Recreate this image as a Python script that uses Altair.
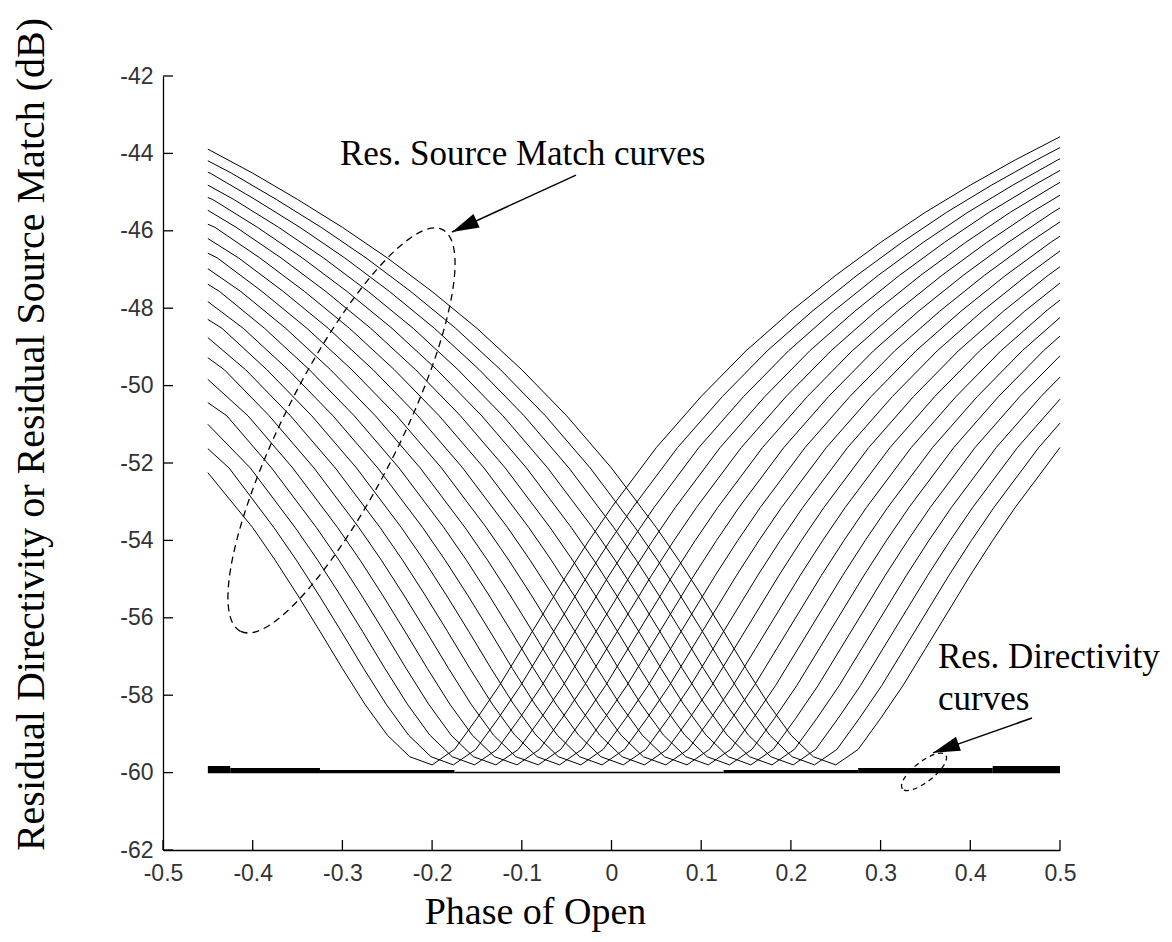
import altair as alt
import pandas as pd

# ---------------- data ----------------
# Residual source match curves: one V-shaped curve per valley position
valley_x = [-0.2, -0.1763, -0.1526, -0.1289, -0.1053, -0.0816, -0.0579, -0.0342, -0.0105, 0.0132,
            0.0368, 0.0605, 0.0842, 0.1079, 0.1316, 0.1553, 0.1789, 0.2026, 0.2263, 0.25]
# value of each curve at the left end (x = -0.45) and at the right end (x = 0.5)
left_end_y = [-52.25, -51.63, -51.0, -50.44, -49.84, -49.28, -48.76, -48.29, -47.83, -47.38,
              -46.98, -46.58, -46.20, -45.83, -45.47, -45.14, -44.82, -44.49, -44.19, -43.89]
right_end_y = [-43.57, -43.85, -44.14, -44.44, -44.75, -45.08, -45.41, -45.77, -46.14, -46.52,
               -46.93, -47.35, -47.79, -48.24, -48.72, -49.23, -49.78, -50.35, -50.97, -51.60]
# read shape of a branch: distance from the valley and level in dB
branch_offset = [0.7, 0.65, 0.6, 0.55, 0.5, 0.45, 0.4, 0.35, 0.3, 0.25, 0.2, 0.175, 0.15, 0.125,
                 0.1, 0.075, 0.05, 0.025]
left_branch_db = [-43.89, -44.51, -45.19, -45.91, -46.70, -47.57, -48.52, -49.59, -50.78, -52.13,
                  -53.67, -54.51, -55.41, -56.35, -57.31, -58.23, -59.03, -59.59]
right_branch_db = [-43.57, -44.17, -44.82, -45.52, -46.30, -47.15, -48.08, -49.10, -50.28, -51.60,
                   -53.15, -54.00, -54.90, -55.85, -56.80, -57.75, -58.60, -59.40]
valley_db = -59.8
x_start = -0.45
x_end = 0.5

# Residual directivity curves (overlapping band near -60 dB)
dir_x1 = [-0.45, -0.425, -0.325, -0.175, 0.125, 0.275, 0.425]
dir_x2 = [-0.425, -0.325, -0.175, 0.125, 0.275, 0.425, 0.5]
dir_top = [-59.83, -59.88, -59.93, -59.975, -59.93, -59.88, -59.83]
dir_bottom = [-60.02, -60.02, -60.02, -60.02, -60.02, -60.02, -60.02]

# axes
x_ticks = [-0.5, -0.4, -0.3, -0.2, -0.1, 0.0, 0.1, 0.2, 0.3, 0.4, 0.5]
y_ticks = [-62, -60, -58, -56, -54, -52, -50, -48, -46, -44, -42]

# annotations
ann_text = ["Res. Source Match curves", "Res. Directivity", "curves"]
ann_x = [-0.3027, 0.364, 0.364]
ann_y = [-44.30, -57.30, -58.38]

ell_x = [-0.301, 0.3484]
ell_y = [-51.16, -59.98]

arrow_x1 = [-0.0396, 0.4688]
arrow_y1 = [-44.56, -58.59]
arrow_x2 = [-0.1778, 0.3584]
arrow_y2 = [-46.03, -59.49]
arrow_angle = [155.3, 160.5]

# ---------------- build tables ----------------
rows = []
for k, p in enumerate(valley_x):
    pts = [(x_start, left_end_y[k])]
    for d, v in zip(branch_offset, left_branch_db):
        if p - d > x_start + 1e-6:
            pts.append((p - d, v))
    pts.append((p, valley_db))
    for d, v in zip(reversed(branch_offset), reversed(right_branch_db)):
        if p + d < x_end - 1e-6:
            pts.append((p + d, v))
    pts.append((x_end, right_end_y[k]))
    for i, (xx, yy) in enumerate(pts):
        rows.append({"curve": k, "order": i, "x": xx, "y": yy})
curves_df = pd.DataFrame(rows)

dir_df = pd.DataFrame({"x": dir_x1, "x2": dir_x2, "y": dir_top, "y2": dir_bottom})
xt_df = pd.DataFrame({"x": x_ticks})
yt_df = pd.DataFrame({"y": y_ticks})
ann_df = pd.DataFrame({"text": ann_text, "x": ann_x, "y": ann_y})
ell1_df = pd.DataFrame({"x": ell_x[:1], "y": ell_y[:1]})
ell2_df = pd.DataFrame({"x": ell_x[1:], "y": ell_y[1:]})
arr_df = pd.DataFrame({"x": arrow_x1, "y": arrow_y1, "x2": arrow_x2, "y2": arrow_y2})
head_df = pd.DataFrame({"x": arrow_x2, "y": arrow_y2, "ang": arrow_angle})

W, H = 897, 774
xs = alt.Scale(domain=[-0.5, 0.5], nice=False, zero=False)
ys = alt.Scale(domain=[-62, -42], nice=False, zero=False)

serif = "Liberation Serif"
sans = "Liberation Sans"

x_axis = alt.Axis(
    values=x_ticks,
    labelExpr="datum.value == 0 ? '0' : (datum.value < 0 ? '-' : '') + format(abs(datum.value), '.1f')",
    ticks=False, grid=False, domainColor="black", domainWidth=1.3,
    labelFont=sans, labelFontSize=23, labelColor="#333", labelPadding=12,
    labelFlush=False, labelOverlap=False,
    title="Phase of Open", titleFont=serif, titleFontSize=38, titleFontWeight="normal",
    titleColor="black", titleX=372, titleY=73, titleAlign="center", titleBaseline="alphabetic",
)
y_axis = alt.Axis(
    values=y_ticks,
    labelExpr="(datum.value < 0 ? '-' : '') + format(abs(datum.value), 'd')",
    ticks=False, grid=False, domainColor="black", domainWidth=1.3,
    labelFont=sans, labelFontSize=23, labelColor="#333", labelPadding=10,
    labelFlush=False, labelOverlap=False,
    title="Residual Directivity or Residual Source Match (dB)", titleFont=serif,
    titleFontSize=40, titleFontWeight="normal", titleColor="black",
    titleX=-120, titleY=358, titleAngle=270, titleAlign="center", titleBaseline="alphabetic",
)

X = lambda f: alt.X(f, scale=xs)
Y = lambda f: alt.Y(f, scale=ys)

curves = alt.Chart(curves_df).mark_line(color="black", strokeWidth=1.0).encode(
    x=alt.X("x:Q", scale=xs, axis=x_axis),
    y=alt.Y("y:Q", scale=ys, axis=y_axis),
    detail="curve:N",
    order="order:Q",
)

directivity = alt.Chart(dir_df).mark_rect(color="black").encode(
    x=X("x:Q"), x2="x2:Q", y=Y("y:Q"), y2="y2:Q",
)

xticks = alt.Chart(xt_df).mark_rule(color="black", strokeWidth=1.3).encode(
    x=X("x:Q"), y=alt.value(H), y2=alt.value(H - 10),
)
yticks = alt.Chart(yt_df).mark_rule(color="black", strokeWidth=1.3).encode(
    y=Y("y:Q"), x=alt.value(0), x2=alt.value(10),
)

texts = alt.Chart(ann_df).mark_text(
    font=serif, fontSize=35, align="left", baseline="alphabetic", color="black"
).encode(x=X("x:Q"), y=Y("y:Q"), text="text:N")

path1 = ("M 1 0 C 1 0.1425 0.5523 0.258 0 0.258 C -0.5523 0.258 -1 0.1425 -1 0 "
         "C -1 -0.1425 -0.5523 -0.258 0 -0.258 C 0.5523 -0.258 1 -0.1425 1 0 Z")
path2 = ("M 1 0 C 1 0.201 0.5523 0.364 0 0.364 C -0.5523 0.364 -1 0.201 -1 0 "
         "C -1 -0.201 -0.5523 -0.364 0 -0.364 C 0.5523 -0.364 1 -0.201 1 0 Z")

ell1 = alt.Chart(ell1_df).mark_point(
    shape=path1, size=202140, angle=116.7, filled=False, color="black",
    strokeWidth=1.3, strokeDash=[7, 5], opacity=1,
).encode(x=X("x:Q"), y=Y("y:Q"))

ell2 = alt.Chart(ell2_df).mark_point(
    shape=path2, size=3025, angle=141.9, filled=False, color="black",
    strokeWidth=1.3, strokeDash=[5, 4], opacity=1,
).encode(x=X("x:Q"), y=Y("y:Q"))

arrows = alt.Chart(arr_df).mark_rule(color="black", strokeWidth=1.5).encode(
    x=X("x:Q"), y=Y("y:Q"), x2="x2:Q", y2="y2:Q",
)
heads = alt.Chart(head_df).mark_point(
    shape="M 0 0 L -2 -0.55 L -2 0.55 Z", size=729, filled=True, color="black", opacity=1,
).encode(x=X("x:Q"), y=Y("y:Q"), angle=alt.Angle("ang:Q", scale=None))

chart = alt.layer(
    curves, directivity, xticks, yticks, ell1, ell2, arrows, heads, texts
).properties(
    width=W, height=H,
    autosize=alt.AutoSizeParams(type="none"),
    padding={"left": 155, "top": 68, "right": 104, "bottom": 84},
    background="white",
).configure_view(stroke=None)

chart.save("out.html", embed_options={"renderer": "svg", "actions": False})
